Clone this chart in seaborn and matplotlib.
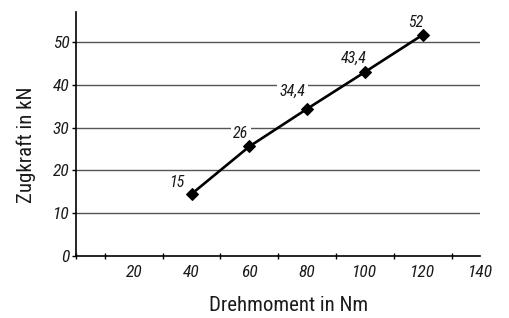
import matplotlib
matplotlib.use("Agg")
import matplotlib.pyplot as plt
import seaborn as sns
import pandas as pd
from matplotlib.ticker import MultipleLocator

torque = [40, 60, 80, 100, 120]
force = [14.5, 25.6, 34.4, 43.0, 51.7]
point_labels = ["15", "26", "34,4", "43,4", "52"]
x_ticks = [20, 40, 60, 80, 100, 120, 140]
y_ticks = [0, 10, 20, 30, 40, 50]

# label placement offsets (pixels: dx, dy above point) - styling only
label_offsets = [(-7, 7), (-1, 8), (-2, 13), (2, 9), (1, 8)]

sns.set_theme(style="white")
plt.rcParams['font.family'] = ["Roboto Condensed", 'DejaVu Sans']

TXT = "#1a1a1a"
df = pd.DataFrame({"Drehmoment": torque, "Zugkraft": force})

fig = plt.figure(figsize=(5.1, 3.18), dpi=100)
ax = fig.add_axes([76/510, 1 - 256/318, (480.5-76)/510, (256-11.7)/318])

for y in y_ticks[1:]:
    ax.axhline(y, color="#555555", lw=1.0, zorder=1)

sns.lineplot(data=df, x="Drehmoment", y="Zugkraft", ax=ax, color="black", lw=1.9,
             marker="D", markersize=6.5, markeredgecolor="black", zorder=3)

px = 72 / 100
for xv, yv, lab, (dx, dy) in zip(torque, force, point_labels, label_offsets):
    ax.annotate(lab, (xv, yv), xytext=(dx * px, dy * px), textcoords="offset points",
                ha="right", va="baseline", fontsize=11.5, style="italic", color=TXT,
                bbox=dict(boxstyle="square,pad=0.15", fc="white", ec="none"), zorder=2)

ax.set_xlim(0, 140)
ax.set_ylim(0, 57.1)
ax.set_xticks(x_ticks)
ax.set_yticks(y_ticks)
ax.xaxis.set_minor_locator(MultipleLocator(10))
ax.tick_params(axis="x", which="major", direction="inout", length=5.5, width=1, color="black",
               labelsize=12.5, pad=4)
ax.tick_params(axis="x", which="minor", direction="inout", length=5, width=1, color="black", bottom=True)
ax.tick_params(axis="y", which="major", direction="out", length=3, width=1, color="black",
               labelsize=12.5, pad=1.5, left=True)
for lab in ax.get_xticklabels() + ax.get_yticklabels():
    lab.set_style("italic")
    lab.set_color(TXT)

for s in ["top", "right"]:
    ax.spines[s].set_visible(False)
for s in ["left", "bottom"]:
    ax.spines[s].set_color("black")
    ax.spines[s].set_linewidth(1.2)

ax.set_xlabel("Drehmoment in Nm", fontsize=15, color=TXT)
ax.set_ylabel("Zugkraft in kN", fontsize=15, color=TXT)
W = 480.5 - 76
H = 256 - 11.7
ax.xaxis.set_label_coords((289 - 76) / W, -(296 - 256) / H, transform=ax.transAxes)
ax.yaxis.set_label_coords(-(76 - 36) / W, (256 - 145) / H, transform=ax.transAxes)

fig.savefig("out.png", dpi=100)
